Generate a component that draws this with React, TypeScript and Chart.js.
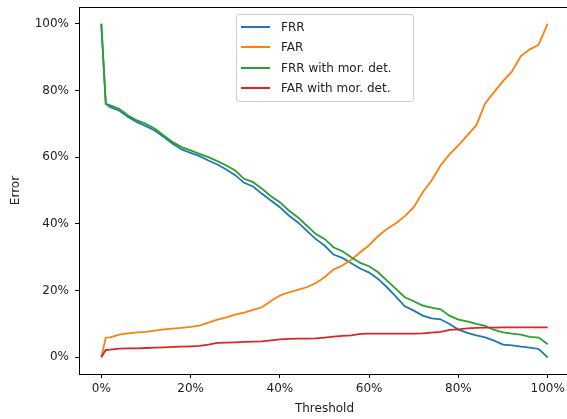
import React, { useEffect, useRef } from "react";
import { Chart, registerables } from "chart.js";

Chart.register(...registerables);

const thresholds = [0, 1, 2, 4, 6, 8, 10, 12, 14, 16, 18, 20, 22, 24, 26, 28, 30, 32, 34, 36, 38, 40, 42, 44, 46, 48, 50, 52, 54, 56, 58, 60, 62, 64, 66, 68, 70, 72, 74, 76, 78, 80, 82, 84, 86, 88, 90, 92, 94, 96, 98, 100];

const frr = [100, 76, 75, 74, 72, 70.5, 69.3, 68, 66, 64, 62.3, 61.3, 60.3, 59, 57.8, 56.3, 54.6, 52.3, 51.2, 49, 47, 45, 42.5, 40.5, 38, 35.5, 33.5, 30.8, 29.8, 28.2, 26.6, 25.4, 23.5, 21, 18.2, 15.3, 14, 12.5, 11.7, 11.4, 10, 8.3, 7.3, 6.6, 6, 5, 3.8, 3.6, 3.2, 2.9, 2.5, 0];

const far = [0, 5.9, 6, 6.8, 7.2, 7.5, 7.6, 8, 8.4, 8.6, 8.8, 9.1, 9.5, 10.4, 11.3, 12, 12.8, 13.4, 14.2, 15, 16.9, 18.5, 19.5, 20.2, 21, 22.2, 24, 26.3, 27.5, 29.2, 31.5, 33.6, 36.3, 38.5, 40.2, 42.3, 45, 49.5, 53, 57.5, 60.8, 63.5, 66.5, 69.5, 76.2, 79.5, 82.8, 85.7, 90.3, 92.3, 93.7, 100];

const frrMor = [100, 76, 75.5, 74.5, 72.5, 71, 70, 68.5, 66.5, 64.5, 63, 62, 61, 60, 58.8, 57.5, 56, 53.5, 52.5, 50.5, 48.3, 46.5, 44, 42, 39.5, 37, 35.5, 33, 31.8, 30, 28.3, 27.3, 25.5, 23, 20.5, 18, 16.8, 15.5, 14.9, 14.4, 12.5, 11.3, 10.8, 10, 9.4, 8.2, 7.5, 7.1, 6.8, 6.1, 5.9, 3.9];

const farMor = [0, 2.2, 2.3, 2.6, 2.7, 2.7, 2.8, 2.9, 3, 3.1, 3.2, 3.3, 3.4, 3.8, 4.3, 4.4, 4.5, 4.6, 4.7, 4.8, 5.1, 5.4, 5.5, 5.6, 5.6, 5.7, 5.9, 6.2, 6.4, 6.6, 7, 7.1, 7.1, 7.1, 7.1, 7.1, 7.1, 7.2, 7.4, 7.6, 8.2, 8.4, 8.7, 8.8, 8.9, 8.9, 9, 9, 9, 9, 9, 9];

const seriesNames = ["FRR", "FAR", "FRR with mor. det.", "FAR with mor. det."];
const seriesColors = ["#1f77b4", "#ff7f0e", "#2ca02c", "#d62728"];
const seriesValues = [frr, far, frrMor, farMor];
const tickValues = [0, 20, 40, 60, 80, 100];

const FONT = "'DejaVu Sans', sans-serif";
const TEXT = "#222";

const framePlugin = {
  id: "frame",
  afterDatasetsDraw(chart: any) {
    const { ctx, chartArea } = chart;
    ctx.save();
    ctx.strokeStyle = "#000";
    ctx.lineWidth = 1;
    ctx.strokeRect(
      Math.round(chartArea.left) + 0.5,
      Math.round(chartArea.top) + 0.5,
      Math.round(chartArea.right - chartArea.left),
      Math.round(chartArea.bottom - chartArea.top)
    );
    ctx.restore();
  },
};

export default function App() {
  const ref = useRef<HTMLCanvasElement>(null);

  useEffect(() => {
    if (!ref.current) return;
    const fixTicks = (scale: any) => {
      scale.ticks = tickValues.map((v) => ({ value: v }));
    };
    const chart = new Chart(ref.current, {
      type: "line",
      data: {
        datasets: seriesValues.map((vals, i) => ({
          label: seriesNames[i],
          data: thresholds.map((t, j) => ({ x: t, y: vals[j] })),
          borderColor: seriesColors[i],
          backgroundColor: seriesColors[i],
          borderWidth: 1.8,
          pointRadius: 0,
          tension: 0,
          fill: false,
          order: 3 - i,
        })),
      },
      options: {
        animation: false,
        responsive: false,
        devicePixelRatio: 1,
        layout: { padding: { top: 7, right: 10, left: 0, bottom: 0 } },
        plugins: { legend: { display: false }, tooltip: { enabled: false } },
        scales: {
          x: {
            type: "linear",
            min: -5,
            max: 105,
            afterBuildTicks: fixTicks,
            afterFit: (s: any) => {
              s.height = 45;
              s.paddingLeft = 0;
              s.paddingRight = 0;
            },
            grid: { drawOnChartArea: false, drawTicks: true, tickLength: 4, color: "#000" },
            border: { display: true, color: "#000", width: 1 },
            ticks: {
              padding: 4,
              color: TEXT,
              font: { family: FONT, size: 12 },
              callback: (v: any) => v + "%",
              maxRotation: 0,
            },
            title: {
              display: true,
              text: "Threshold",
              color: TEXT,
              font: { family: FONT, size: 12 },
              padding: { top: 0, bottom: 3 },
            },
          },
          y: {
            type: "linear",
            min: -5,
            max: 105,
            afterBuildTicks: fixTicks,
            afterFit: (s: any) => {
              s.width = 79;
              s.paddingTop = 0;
              s.paddingBottom = 0;
            },
            grid: { drawOnChartArea: false, drawTicks: true, tickLength: 4, color: "#000" },
            border: { display: true, color: "#000", width: 1 },
            ticks: {
              padding: 6,
              color: TEXT,
              font: { family: FONT, size: 12 },
              callback: (v: any) => v + "%",
            },
            title: {
              display: true,
              text: "Error",
              color: TEXT,
              font: { family: FONT, size: 12 },
              padding: { top: 9, bottom: 0 },
            },
          },
        },
      },
      plugins: [framePlugin],
    });
    return () => chart.destroy();
  }, []);

  return (
    <div style={{ position: "fixed", left: 0, top: 0, width: 580, height: 419, background: "#fff" }}>
      <canvas ref={ref} width={580} height={419} style={{ display: "block" }} />
      <div
        style={{
          position: "absolute",
          left: 236,
          top: 14,
          width: 176,
          height: 86,
          border: "1px solid #cccccc",
          borderRadius: 3,
          background: "rgba(255,255,255,0.8)",
          fontFamily: FONT,
          fontSize: 12,
          color: TEXT,
        }}
      >
        {seriesNames.map((name, i) => (
          <div key={name}>
            <div
              style={{
                position: "absolute",
                left: 4,
                top: 12 + i * 20.3 - 1,
                width: 29,
                height: 2,
                background: seriesColors[i],
              }}
            />
            <div
              style={{
                position: "absolute",
                left: 44,
                top: 12 + i * 20.3 - 8,
                lineHeight: "16px",
                whiteSpace: "nowrap",
              }}
            >
              {name}
            </div>
          </div>
        ))}
      </div>
    </div>
  );
}
